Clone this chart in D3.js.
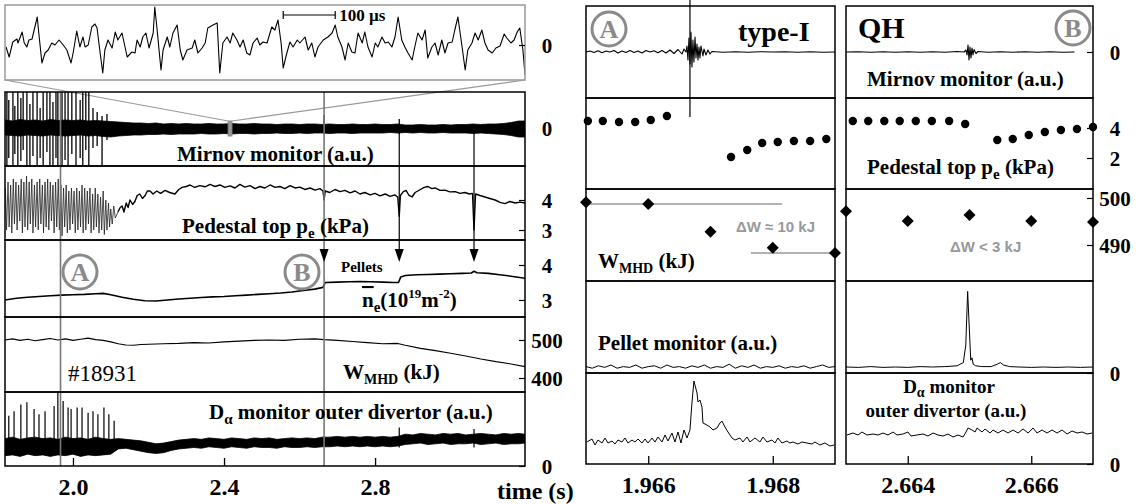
<!DOCTYPE html>
<html>
<head>
<meta charset="utf-8">
<script src="https://cdn.jsdelivr.net/npm/d3@7"></script>
<style>
  body { margin: 0; background: #fff; }
  text { font-family: "Liberation Serif", "DejaVu Serif", "Times New Roman", serif; font-weight: bold; fill: #000; }
</style>
</head>
<body>
<script>
// ---------- data ----------
// markers
let tA = 1.967, tB = 2.665
let pelletTimes = [2.665, 2.864, 3.062]

// inset: Mirnov signal over 1 ms, time in microseconds
let insetSig = [[2,-0.2],[8,-1.2],[15,0.3],[23,0.6],[25,0.2],[33,1.3],[37,0.2],[42,-0.2],[46,0.5],[52,0.6],[62,2.8],[65,1.2],[71,-1.8],[77,-0.8],[83,-0.5],[90,0.2],[96,0],[104,0.5],[112,0],[119,-0.5],[127,-1.8],[131,-0.8],[138,1.4],[144,-0.2],[150,0.8],[154,-0.2],[160,0],[167,1.8],[173,2.1],[177,1.7],[183,-0.8],[188,-2.8],[192,-0.5],[198,0.5],[206,-0.3],[212,1.3],[217,0.5],[225,1.2],[235,-1.2],[244,-0.7],[250,-0.8],[254,0.5],[260,-0.2],[265,0.8],[271,1.2],[277,-0.3],[285,1.2],[288,3.8],[292,1.8],[300,-2.5],[304,-0.5],[312,0.8],[317,-0.2],[323,1.2],[331,2.0],[337,-0.5],[342,-1.5],[350,-0.5],[360,-0.3],[365,0.5],[371,-0.8],[379,-0.3],[385,0.2],[390,1.7],[400,2.0],[408,2.2],[413,-2.8],[419,0.2],[427,0.8],[433,0.2],[438,1.2],[446,0.5],[452,-0.2],[458,0.5],[465,-0.8],[471,-1.0],[477,0.2],[485,0.7],[490,0],[496,0.3],[504,0.2],[513,1.8],[519,1.5],[525,2.5],[531,0.2],[535,-2.3],[542,-0.8],[548,0.3],[554,-0.2],[562,0.5],[567,0.2],[577,0.8],[583,-0.5],[590,0.2],[596,-1.2],[602,-0.2],[612,0.5],[621,0.8],[629,1.2],[635,2.0],[640,0.8],[648,-0.2],[654,-1.5],[660,0.2],[667,-0.7],[673,-0.8],[679,1.2],[687,0.2],[692,1.3],[698,-0.2],[706,-1.2],[712,0.2],[717,-0.2],[725,0.8],[731,0.2],[737,0.3],[744,-0.2],[750,0.8],[756,2.8],[763,0.5],[769,-0.2],[775,-0.8],[783,-1.5],[788,-0.2],[794,1.2],[802,0.5],[808,1.5],[813,-1.3],[821,-0.2],[827,0.2],[833,-1.0],[840,0.5],[846,-0.8],[852,0.2],[860,0.3],[865,1.5],[871,2.8],[879,-0.2],[885,-2.5],[890,-0.5],[898,0.2],[904,1.2],[910,0.5],[917,1.5],[923,0.2],[929,-0.5],[937,-0.8],[944,-0.3],[952,-0.1],[960,1.1],[965,0.7],[973,0.2],[979,0.5],[985,1.3],[990,1.7],[996,-0.5],[1000,-3.0]]
let insetBar = [535, 635]   // 100 us scale bar
let zoomWindow = [2.411, 2.421]

// long discharge: Mirnov envelope (a.u.)
let bandT = [1.82,1.84,1.86,1.88,1.90,1.92,1.94,1.96,1.98,2.00,2.02,2.04,2.06,2.08,2.10,2.12,2.14,2.16,2.18,2.20,2.22,2.24,2.26,2.28,2.30,2.32,2.34,2.36,2.38,2.40,2.42,2.44,2.46,2.48,2.50,2.52,2.54,2.56,2.58,2.60,2.62,2.64,2.66,2.68,2.70,2.72,2.74,2.76,2.78,2.80,2.82,2.84,2.86,2.88,2.90,2.92,2.94,2.96,2.98,3.00,3.02,3.04,3.06,3.08,3.10,3.12,3.14,3.16,3.18,3.197]
let mirHi = [0.8,0.7,0.85,0.75,0.8,0.7,0.85,0.75,0.8,0.75,0.8,0.7,0.75,0.7,0.65,0.6,0.55,0.5,0.5,0.45,0.5,0.4,0.45,0.4,0.45,0.4,0.4,0.45,0.4,0.4,0.45,0.4,0.4,0.45,0.4,0.4,0.35,0.4,0.4,0.35,0.4,0.4,0.35,0.4,0.35,0.35,0.4,0.35,0.35,0.4,0.35,0.35,0.4,0.3,0.3,0.35,0.3,0.3,0.35,0.3,0.35,0.35,0.4,0.35,0.4,0.4,0.45,0.55,0.7,0.7]
let mirLo = [-0.7,-0.75,-0.8,-0.7,-0.75,-0.8,-0.7,-0.75,-0.8,-0.75,-0.7,-0.8,-0.75,-0.85,-0.9,-0.8,-0.75,-0.7,-0.7,-0.65,-0.65,-0.6,-0.65,-0.6,-0.6,-0.6,-0.55,-0.6,-0.6,-0.55,-0.6,-0.55,-0.55,-0.6,-0.55,-0.55,-0.5,-0.55,-0.55,-0.5,-0.55,-0.5,-0.5,-0.55,-0.5,-0.5,-0.55,-0.5,-0.5,-0.5,-0.5,-0.45,-0.5,-0.45,-0.5,-0.45,-0.5,-0.5,-0.45,-0.5,-0.5,-0.5,-0.55,-0.5,-0.55,-0.6,-0.65,-0.75,-0.9,-0.9]
// ELM spikes on Mirnov: [t, high, low]
let mirSpikes = [[1.825,3.6,-3.8],[1.830,2.8,-3.0],[1.841,3.6,-3.8],[1.846,2.2,-2.6],[1.854,3.6,-3.8],[1.862,3.0,-3.3],[1.868,3.6,-2.2],[1.878,3.6,-3.8],[1.886,2.4,-3.8],[1.894,3.6,-2.8],[1.905,3.6,-3.8],[1.913,2.0,-3.0],[1.921,3.6,-3.8],[1.931,3.6,-2.4],[1.939,3.6,-3.8],[1.947,2.6,-3.8],[1.955,3.6,-3.0],[1.960,3.6,-3.8],[1.971,3.6,-3.8],[1.979,3.6,-3.2],[1.987,3.6,-3.8],[1.997,3.6,-2.6],[2.008,3.6,-3.8],[2.019,2.8,-3.0],[2.026,3.6,-3.8],[2.034,3.6,-2.2],[2.042,3.6,-3.8],[2.053,2.0,-2.0],[2.064,1.6,-1.8],[2.077,1.2,-3.8],[2.090,1.4,-1.2],[2.665,1.3,-0.6],[2.864,0.9,-0.6]]

// pedestal top pe (kPa), long discharge: ELM phase, then ELM-free phase
let pedElm = [[1.821,4.4],[1.824,3.0],[1.828,4.6],[1.831,3.1],[1.835,4.5],[1.838,2.9],[1.842,4.7],[1.845,3.2],[1.849,4.6],[1.852,3.0],[1.856,4.5],[1.859,3.3],[1.863,4.7],[1.866,2.9],[1.870,4.6],[1.873,3.1],[1.877,4.8],[1.880,3.0],[1.884,4.6],[1.887,3.2],[1.891,4.7],[1.894,2.9],[1.898,4.5],[1.901,3.1],[1.905,4.6],[1.908,3.0],[1.912,4.7],[1.915,3.2],[1.919,4.5],[1.922,2.9],[1.926,4.6],[1.929,3.1],[1.933,4.7],[1.936,3.0],[1.940,4.6],[1.943,3.3],[1.947,4.5],[1.950,2.9],[1.954,4.6],[1.957,3.1],[1.961,4.7],[1.964,3.0],[1.968,4.5],[1.971,2.8],[1.975,4.4],[1.978,3.1],[1.982,4.5],[1.985,2.9],[1.989,4.3],[1.992,3.0],[1.996,4.4],[1.999,3.2],[2.003,4.3],[2.006,2.9],[2.010,4.4],[2.013,3.0],[2.017,4.3],[2.020,3.1],[2.024,4.5],[2.027,2.9],[2.031,4.4],[2.034,3.0],[2.038,4.3],[2.041,3.2],[2.045,4.4],[2.048,2.9],[2.052,4.2],[2.055,3.0],[2.059,4.4],[2.062,3.1],[2.066,4.2],[2.069,2.9],[2.073,4.1],[2.076,3.0],[2.080,4.3],[2.083,2.85],[2.087,4.0],[2.090,3.0],[2.094,3.9],[2.097,3.1],[2.100,3.7],[2.104,3.2],[2.108,3.8],[2.112,3.4],[2.119,3.6]]
let pedQuiet = [[2.119,3.6],[2.125,3.75],[2.130,3.8],[2.135,3.6],[2.141,3.9],[2.146,3.75],[2.151,4.0],[2.158,3.85],[2.164,3.95],[2.170,4.15],[2.177,4.2],[2.184,4.05],[2.191,4.15],[2.197,4.3],[2.204,4.3],[2.212,4.2],[2.222,4.3],[2.232,4.22],[2.244,4.32],[2.256,4.25],[2.270,4.2],[2.280,4.35],[2.289,4.42],[2.300,4.45],[2.310,4.5],[2.322,4.42],[2.336,4.48],[2.350,4.44],[2.363,4.52],[2.376,4.45],[2.389,4.5],[2.402,4.42],[2.416,4.47],[2.429,4.4],[2.442,4.52],[2.455,4.43],[2.469,4.48],[2.482,4.38],[2.495,4.45],[2.508,4.4],[2.522,4.5],[2.535,4.42],[2.548,4.45],[2.561,4.38],[2.575,4.48],[2.588,4.4],[2.601,4.43],[2.614,4.35],[2.628,4.4],[2.641,4.33],[2.654,4.38],[2.662,4.3],[2.665,4.0],[2.668,4.3],[2.680,4.25],[2.694,4.35],[2.707,4.28],[2.720,4.32],[2.734,4.24],[2.747,4.3],[2.760,4.2],[2.773,4.25],[2.787,4.17],[2.800,4.22],[2.813,4.14],[2.827,4.2],[2.840,4.12],[2.852,4.17],[2.860,4.1],[2.864,3.45],[2.867,4.15],[2.875,4.28],[2.882,4.32],[2.890,4.15],[2.898,4.1],[2.906,4.25],[2.913,4.3],[2.920,4.35],[2.930,4.42],[2.940,4.45],[2.950,4.38],[2.959,4.4],[2.972,4.32],[2.985,4.33],[2.998,4.27],[3.012,4.28],[3.025,4.22],[3.038,4.25],[3.050,4.2],[3.058,4.22],[3.062,3.0],[3.066,4.2],[3.078,4.15],[3.091,4.1],[3.104,4.05],[3.118,4.0],[3.131,3.92],[3.144,3.88],[3.157,3.95],[3.171,3.9],[3.184,3.93],[3.197,3.9]]

// line density (1e19 m^-2)
let neLong = [[1.82,3.0],[1.85,3.05],[1.88,3.08],[1.91,3.1],[1.94,3.12],[1.97,3.14],[2.00,3.15],[2.03,3.16],[2.06,3.18],[2.08,3.19],[2.10,3.15],[2.13,3.08],[2.16,3.02],[2.19,2.98],[2.22,2.97],[2.25,3.0],[2.28,3.03],[2.31,3.05],[2.34,3.07],[2.37,3.09],[2.40,3.1],[2.43,3.12],[2.46,3.14],[2.49,3.16],[2.52,3.18],[2.55,3.2],[2.58,3.23],[2.61,3.27],[2.64,3.31],[2.662,3.36],[2.668,3.5],[2.70,3.51],[2.73,3.52],[2.76,3.53],[2.79,3.52],[2.82,3.51],[2.85,3.5],[2.862,3.5],[2.868,3.66],[2.88,3.7],[2.91,3.72],[2.94,3.73],[2.97,3.74],[3.00,3.75],[3.03,3.76],[3.055,3.77],[3.062,3.82],[3.07,3.78],[3.10,3.76],[3.13,3.72],[3.16,3.68],[3.197,3.62]]

// stored energy (kJ)
let wLong = [[1.82,500],[1.84,503],[1.86,499],[1.88,502],[1.90,498],[1.92,501],[1.94,504],[1.96,500],[1.98,503],[2.00,499],[2.02,502],[2.04,505],[2.06,501],[2.08,499],[2.10,495],[2.12,490],[2.14,487],[2.16,486],[2.18,488],[2.20,489],[2.24,490],[2.28,491],[2.32,493],[2.36,492],[2.40,495],[2.44,497],[2.48,499],[2.52,500],[2.56,499],[2.60,502],[2.64,503],[2.665,501],[2.70,499],[2.74,496],[2.78,493],[2.82,490],[2.86,491],[2.88,486],[2.92,478],[2.96,472],[3.00,465],[3.04,458],[3.08,450],[3.12,443],[3.16,437],[3.197,430]]

// D-alpha envelope (a.u.) on bandT, plus ELM spikes
let daHi = [3.7,3.9,3.6,3.8,3.9,3.7,3.8,3.6,3.9,3.7,3.8,3.6,3.9,3.7,3.6,3.7,3.6,3.5,3.4,3.2,3.0,3.1,3.3,3.5,3.6,3.7,3.6,3.8,3.7,3.6,3.8,3.7,3.6,3.8,3.7,3.8,3.6,3.7,3.8,3.7,3.8,3.7,3.9,3.9,4.0,3.9,4.0,3.9,4.0,3.9,4.0,3.9,4.0,4.3,4.2,4.4,4.3,4.2,4.4,4.3,4.4,4.2,4.3,4.4,4.3,4.2,4.4,4.3,4.4,4.3]
let daLo = [1.4,1.5,1.3,1.6,1.4,1.5,1.3,1.5,1.4,1.6,1.3,1.5,1.4,1.5,1.6,2.3,2.4,2.2,2.0,1.8,1.7,1.8,2.1,2.3,2.4,2.5,2.4,2.6,2.5,2.4,2.6,2.5,2.4,2.6,2.5,2.5,2.4,2.6,2.5,2.5,2.6,2.5,2.6,2.6,2.7,2.6,2.7,2.6,2.7,2.6,2.7,2.6,2.7,2.9,3.0,3.1,2.9,3.0,3.1,2.9,3.0,3.0,3.1,2.9,3.0,3.1,2.9,3.0,3.0,3.1]
let daSpikes = [[1.830,6.8],[1.844,7.4],[1.862,8.3],[1.878,8.6],[1.897,7.7],[1.910,7.0],[1.926,7.4],[1.950,8.1],[1.960,10.0],[1.974,8.8],[1.987,7.9],[1.995,7.7],[2.011,7.9],[2.024,7.9],[2.040,7.2],[2.053,7.4],[2.066,7.0],[2.082,7.9],[2.095,7.0],[2.109,6.1],[2.864,5.2],[3.062,5.0]]

// type-I ELM (A) zoom
let mirA = [[1.965000,0],[1.965064,0.2],[1.965128,-0.1],[1.965193,0.25],[1.965257,-0.15],[1.965321,0.2],[1.965385,0],[1.965450,0.3],[1.965514,-0.2],[1.965578,0.2],[1.965642,-0.1],[1.965707,0.3],[1.965771,-0.1],[1.965835,0.2],[1.965899,-0.2],[1.965964,0.3],[1.966028,0],[1.966092,0.25],[1.966156,-0.15],[1.966221,0.3],[1.966285,-0.2],[1.966349,0.4],[1.966413,-0.3],[1.966478,0.5],[1.966542,-0.4],[1.966574,0.6],[1.966606,0],[1.966622,1.2],[1.966638,-1.6],[1.966654,2.8],[1.966670,-2.4],[1.966686,4.0],[1.966702,-3.0],[1.966718,2.4],[1.966734,-2.0],[1.966751,3.0],[1.966767,-1.2],[1.966783,1.6],[1.966799,-1.6],[1.966815,1.0],[1.966831,-1.2],[1.966847,1.2],[1.966879,-0.8],[1.966895,0.6],[1.966927,-0.6],[1.966959,0.4],[1.966991,-0.4],[1.967024,0.1],[1.96720,-0.05],[1.96740,0.05],[1.96760,-0.05],[1.96780,0.05],[1.96800,0],[1.96820,0.05],[1.96840,-0.05],[1.96860,0.05],[1.96880,-0.05],[1.96900,0]]
let pedA = [[1.96503,4.47],[1.96527,4.47],[1.96553,4.4],[1.96579,4.4],[1.96604,4.53],[1.96630,4.8],[1.96733,2.07],[1.96759,2.53],[1.96783,3.0],[1.96808,3.07],[1.96834,3.13],[1.96860,3.13],[1.96886,3.27]]
let wA = [[1.965,499.1],[1.966,498.7],[1.967,492.8],[1.968,489.4],[1.969,488.3]]
let wLevelsA = [[1.965, 1.96815, 498.7], [1.96765, 1.969, 488.3]]
let pelA = [[1.96500,0.8],[1.96510,0.6],[1.96520,0.9],[1.96530,0.7],[1.96540,1.0],[1.96550,0.6],[1.96560,0.8],[1.96570,0.7],[1.96580,1.0],[1.96590,0.6],[1.96600,0.8],[1.96610,0.9],[1.96620,0.6],[1.96630,1.0],[1.96640,0.7],[1.96650,0.8],[1.96660,0.6],[1.96670,0.9],[1.96680,0.7],[1.96690,1.0],[1.96700,0.6],[1.96710,0.8],[1.96720,0.7],[1.96730,1.1],[1.96740,0.6],[1.96750,0.9],[1.96760,0.7],[1.96770,1.0],[1.96780,0.6],[1.96790,0.8],[1.96800,0.7],[1.96810,0.9],[1.96820,0.6],[1.96830,0.8],[1.96840,0.7],[1.96850,0.9],[1.96860,0.6],[1.96870,0.8],[1.96880,1.0],[1.96890,0.7],[1.96900,0.8]]
let daA = [[1.965016,5.5],[1.965096,6.25],[1.965145,4.75],[1.965193,6],[1.965257,5.25],[1.965305,6.5],[1.965353,5.25],[1.965418,5.75],[1.965466,5],[1.965514,6],[1.965578,5.5],[1.965626,6.5],[1.965675,5.25],[1.965739,6],[1.965787,5.5],[1.965835,6.25],[1.965899,5.25],[1.965948,6.25],[1.965996,5.25],[1.966060,6.5],[1.966108,5.5],[1.966156,6.75],[1.966221,5.5],[1.966269,7.25],[1.966317,5.75],[1.966381,7.75],[1.966429,5.5],[1.966478,8],[1.966526,5.25],[1.966574,8.5],[1.966622,6.5],[1.966670,8.5],[1.966702,15.25],[1.966734,20.75],[1.966783,17.75],[1.966799,15.5],[1.966831,16],[1.966863,14.25],[1.966879,10.25],[1.966943,9.75],[1.966991,9.25],[1.967040,8.5],[1.967104,9],[1.967152,10.25],[1.967184,10.75],[1.967232,9.25],[1.967281,8],[1.967345,6.5],[1.967393,6],[1.967473,6.5],[1.967521,5.5],[1.967586,6.75],[1.967634,5.5],[1.967714,6.5],[1.967794,5.5],[1.967843,6.75],[1.967907,5.5],[1.967987,6],[1.968035,5.25],[1.968083,6.5],[1.968148,5.25],[1.968228,5.75],[1.968276,5.25],[1.968324,5.5],[1.968405,5],[1.968469,5.5],[1.968549,5.25],[1.968630,5],[1.968678,5.5],[1.968758,4.75],[1.968838,5.25],[1.968919,4.5],[1.968983,4.75]]

// QH (B) zoom
let mirB = [[2.66300,0],[2.66320,0.05],[2.66340,-0.05],[2.66360,0.05],[2.66380,-0.05],[2.66400,0.05],[2.66420,-0.05],[2.66440,0.05],[2.66460,-0.05],[2.66480,0.1],[2.664911,0],[2.664943,0.4],[2.664960,-0.6],[2.664976,1.4],[2.664992,-1.6],[2.665008,1.0],[2.665024,-1.2],[2.665041,0.8],[2.665057,-0.6],[2.665073,0.5],[2.665105,-0.3],[2.665138,0.1],[2.66530,-0.05],[2.66550,0.05],[2.66570,-0.05],[2.66590,0.05],[2.66610,-0.05],[2.66630,0.05],[2.66650,-0.05],[2.66670,0]]
let pedB = [[2.66311,4.47],[2.66336,4.47],[2.66362,4.47],[2.66387,4.47],[2.66413,4.47],[2.66439,4.47],[2.66467,4.47],[2.66493,4.27],[2.66545,3.2],[2.66570,3.27],[2.66596,3.53],[2.66622,3.73],[2.66648,3.87],[2.66674,3.93],[2.66700,4.07]]
let wB = [[2.663,497.2],[2.664,495.1],[2.665,496.4],[2.666,495.1],[2.667,494.9]]
let pelB = [[2.66300,0.75],[2.66320,0.7],[2.66340,0.8],[2.66360,0.7],[2.66380,0.75],[2.66400,0.7],[2.66420,0.8],[2.66440,0.75],[2.66460,0.8],[2.66480,0.9],[2.66490,1.3],[2.66494,3.5],[2.66497,10.2],[2.66500,5.0],[2.66502,1.6],[2.66504,1.9],[2.66506,1.1],[2.66510,0.9],[2.66520,0.8],[2.66535,0.8],[2.66545,1.1],[2.66550,1.3],[2.66555,1.0],[2.66565,0.8],[2.66580,0.75],[2.66600,0.7],[2.66620,0.75],[2.66640,0.7],[2.66660,0.75],[2.66680,0.7],[2.66700,0.75]]
let daB = [[2.663016,7.25],[2.663113,7.75],[2.663194,7.25],[2.663259,8],[2.663340,7.25],[2.663437,7.5],[2.663518,7.25],[2.663599,7.75],[2.663680,7.25],[2.663761,8],[2.663826,7.25],[2.663923,7.5],[2.664004,8],[2.664053,7],[2.664150,7.25],[2.664247,7.5],[2.664328,7],[2.664409,7.75],[2.664490,7.25],[2.664571,7],[2.664652,7.5],[2.664733,6.75],[2.664814,7.25],[2.664895,6.75],[2.664944,8],[2.664976,9],[2.665041,8.5],[2.665090,8],[2.665122,9],[2.665203,8],[2.665252,8.75],[2.665333,7.75],[2.665381,8.5],[2.665462,7.75],[2.665543,8.5],[2.665624,7.75],[2.665705,8.5],[2.665786,7.75],[2.665867,8.75],[2.665948,7.75],[2.666029,9],[2.666094,7.75],[2.666175,8.5],[2.666256,7.75],[2.666337,8.5],[2.666418,7.75],[2.666499,8.5],[2.666580,7.5],[2.666661,8.25],[2.666742,7.75],[2.666823,8],[2.666904,7.5],[2.666985,7.75]]

// tick labels
let ticksLong = [2.0, 2.4, 2.8]
let ticksA = [1.966, 1.968]
let ticksB = [2.664, 2.666]

// ---------- drawing ----------
let W = 1142, H = 504
let SERIF = '"Liberation Serif", "DejaVu Serif", "Times New Roman", serif'
let svg = d3.select('body').append('svg').attr('width', W).attr('height', H)
let defs = svg.append('defs')

// scales
let xIn = d3.scaleLinear().domain([0, 1000]).range([5, 525])
let xL = d3.scaleLinear().domain([1.82, 3.197]).range([5, 525])
let xA = d3.scaleLinear().domain([1.965, 1.969]).range([586, 835])
let xB = d3.scaleLinear().domain([2.663, 2.667]).range([846, 1093])

let yIn = d3.scaleLinear().domain([-3.5, 4]).range([80, 5])
let yMir = d3.scaleLinear().domain([-3.8, 3.6]).range([166, 92])
let yPed = d3.scaleLinear().domain([2.667, 5.133]).range([240, 166])
let yNe = d3.scaleLinear().domain([2.514, 4.714]).range([317, 240])
let yW = d3.scaleLinear().domain([363.2, 560.5]).range([392, 317])
let yDa = d3.scaleLinear().domain([0, 10]).range([466, 392])

let ySMir = d3.scaleLinear().domain([-9.2, 9.2]).range([98, 6])
let ySPed = d3.scaleLinear().domain([-0.067, 6]).range([189, 98])
let ySW = d3.scaleLinear().domain([482.34, 501.91]).range([281, 189])
let ySPel = d3.scaleLinear().domain([0, 11.5]).range([373, 281])
let ySDa = d3.scaleLinear().domain([0, 22.75]).range([464, 373])

let clipN = 0
function clipRect(x0, y0, x1, y1) {
  let id = 'c' + (clipN++)
  defs.append('clipPath').attr('id', id).append('rect')
    .attr('x', x0).attr('y', y0).attr('width', x1 - x0).attr('height', y1 - y0)
  return 'url(#' + id + ')'
}
function trace(data, xs, ys, clip, sw, col) {
  let line = d3.line().x(d => xs(d[0])).y(d => ys(d[1]))
  svg.append('path').attr('d', line(data)).attr('clip-path', clip)
    .attr('fill', 'none').attr('stroke', col || '#000').attr('stroke-width', sw || 1)
    .attr('stroke-linejoin', 'round')
}
function band(t, hi, lo, xs, ys, clip) {
  let area = d3.area().x(d => xs(d[0])).y0(d => ys(d[2])).y1(d => ys(d[1]))
  svg.append('path').attr('d', area(d3.zip(t, hi, lo))).attr('clip-path', clip)
    .attr('fill', '#000').attr('stroke', '#000').attr('stroke-width', 0.8)
}
function rightAxis(x, ys, vals) {
  let ax = d3.axisRight(ys).tickValues(vals).tickSize(-6).tickPadding(0).tickFormat(d3.format('d'))
  let g = svg.append('g').attr('transform', 'translate(' + x + ',0)').call(ax)
  g.select('.domain').remove()
  g.selectAll('line').attr('stroke', '#000').attr('stroke-width', 1.2)
  g.selectAll('text').attr('x', 22).attr('text-anchor', 'middle').attr('dy', '0.36em')
    .style('font-family', SERIF).style('font-weight', 'bold').style('font-size', '21px')
}
function bottomAxis(y, xs, vals, fmt) {
  let ax = d3.axisBottom(xs).tickValues(vals).tickSize(-8).tickPadding(12).tickFormat(fmt)
  let g = svg.append('g').attr('transform', 'translate(0,' + y + ')').call(ax)
  g.select('.domain').remove()
  g.selectAll('line').attr('stroke', '#000').attr('stroke-width', 1.3)
  g.selectAll('text').style('font-family', SERIF).style('font-weight', 'bold').style('font-size', '24px')
}
function label(x, y, parts, size, anchor) {
  let t = svg.append('text').attr('x', x).attr('y', y).style('font-size', (size || 21) + 'px')
  if (anchor) t.attr('text-anchor', anchor)
  parts.forEach(p => {
    if (typeof p === 'string') { t.append('tspan').text(p); return }
    let s = t.append('tspan').text(p.t)
    if (p.size) s.style('font-size', p.size + 'px')
    if (p.dy) s.attr('dy', p.dy)
    if (p.over) s.style('text-decoration', 'overline')
  })
  return t
}
function circled(cx, cy, ch) {
  svg.append('circle').attr('cx', cx).attr('cy', cy).attr('r', 17)
    .attr('fill', 'none').attr('stroke', '#8a8a8a').attr('stroke-width', 3)
  svg.append('text').attr('x', cx).attr('y', cy + 9).attr('text-anchor', 'middle')
    .style('font-size', '26px').style('fill', '#8a8a8a').text(ch)
}

// ---- left: inset ----
let cIn = clipRect(5, 5, 525, 80)
trace(insetSig, xIn, yIn, cIn, 1.1)
svg.append('rect').attr('x', 5).attr('y', 5).attr('width', 520).attr('height', 75)
  .attr('fill', 'none').attr('stroke', '#999').attr('stroke-width', 1.5)
svg.append('line').attr('x1', xIn(insetBar[0])).attr('x2', xIn(insetBar[1]))
  .attr('y1', yIn(3)).attr('y2', yIn(3)).attr('stroke', '#000').attr('stroke-width', 1.2)
insetBar.forEach(v => svg.append('line').attr('x1', xIn(v)).attr('x2', xIn(v))
  .attr('y1', yIn(3) - 4).attr('y2', yIn(3) + 4).attr('stroke', '#000').attr('stroke-width', 1.2))
label(xIn(insetBar[1]) + 4, yIn(3) + 6, ['100 µs'], 17)
rightAxis(525, yIn, [0])
// connector lines to the zoom window
svg.append('line').attr('x1', 5).attr('y1', 80).attr('x2', xL(zoomWindow[0])).attr('y2', yMir(0.7))
  .attr('stroke', '#999').attr('stroke-width', 1.2)
svg.append('line').attr('x1', 525).attr('y1', 80).attr('x2', xL(zoomWindow[1])).attr('y2', yMir(0.7))
  .attr('stroke', '#999').attr('stroke-width', 1.2)

// ---- left: long traces ----
let cMir = clipRect(5, 92, 525, 166)
band(bandT, mirHi, mirLo, xL, yMir, cMir)
mirSpikes.forEach(s => svg.append('line').attr('clip-path', cMir)
  .attr('x1', xL(s[0])).attr('x2', xL(s[0])).attr('y1', yMir(s[1])).attr('y2', yMir(s[2]))
  .attr('stroke', '#000').attr('stroke-width', 1.3))
svg.append('rect').attr('x', xL(zoomWindow[0])).attr('y', yMir(0.7))
  .attr('width', xL(zoomWindow[1]) - xL(zoomWindow[0])).attr('height', yMir(-0.8) - yMir(0.7))
  .attr('fill', '#999').attr('stroke', '#888').attr('stroke-width', 1)

let cPed = clipRect(5, 166, 525, 240)
trace(pedElm, xL, yPed, cPed, 0.8, '#222')
trace(pedQuiet, xL, yPed, cPed, 1.4)
let cNe = clipRect(5, 240, 525, 317)
trace(neLong, xL, yNe, cNe, 1.6)
let cW = clipRect(5, 317, 525, 392)
trace(wLong, xL, yW, cW, 1.1)
let cDa = clipRect(5, 392, 525, 466)
band(bandT, daHi, daLo, xL, yDa, cDa)
daSpikes.forEach(s => svg.append('line').attr('clip-path', cDa)
  .attr('x1', xL(s[0])).attr('x2', xL(s[0])).attr('y1', yDa(s[1])).attr('y2', yDa(2.5))
  .attr('stroke', '#000').attr('stroke-width', 1.2))

// A / B markers
;[tA, tB].forEach(t => svg.append('line').attr('x1', xL(t)).attr('x2', xL(t))
  .attr('y1', 92).attr('y2', 466).attr('stroke', '#777').attr('stroke-width', 1.6))
// pellets
pelletTimes.forEach((t, i) => {
  let x = xL(t)
  if (i > 0) svg.append('line').attr('x1', x).attr('x2', x).attr('y1', yMir(0)).attr('y2', 250)
    .attr('stroke', '#000').attr('stroke-width', 1.2)
  svg.append('path').attr('d', 'M' + (x - 4.5) + ',249L' + (x + 4.5) + ',249L' + x + ',262Z').attr('fill', '#000')
})

// frames
;[92, 166, 240, 317, 392].forEach((y0, i, a) => {
  let y1 = i < a.length - 1 ? a[i + 1] : 466
  svg.append('rect').attr('x', 5).attr('y', y0).attr('width', 520).attr('height', y1 - y0)
    .attr('fill', 'none').attr('stroke', '#000').attr('stroke-width', 1.5)
})

rightAxis(525, yMir, [0])
rightAxis(525, yPed, [3, 4])
rightAxis(525, yNe, [3, 4])
rightAxis(525, yW, [400, 500])
rightAxis(525, yDa, [0])
bottomAxis(466, xL, ticksLong, d3.format('.1f'))

// left labels
label(177, 161, ['Mirnov monitor (a.u.)'])
label(182, 233, ['Pedestal top p', { t: 'e', size: 15, dy: 5 }, { t: '  (kPa)', dy: -5 }])
label(341, 272, ['Pellets'], 15)
label(362, 307, [{ t: 'n', over: true }, { t: 'e', size: 15, dy: 5 }, { t: '(10', dy: -5 }, { t: '19', size: 13, dy: -9 }, { t: 'm', dy: 9 }, { t: '-2', size: 13, dy: -9 }, { t: ')', dy: 9 }])
svg.append('text').attr('x', 68).attr('y', 381).style('font-size', '23px').style('font-weight', 'normal').text('#18931')
label(343, 379, ['W', { t: 'MHD', size: 14, dy: 5 }, { t: ' (kJ)', dy: -5 }])
label(209, 419, ['D', { t: 'α', size: 15, dy: 5 }, { t: ' monitor outer divertor (a.u.)', dy: -5 }])
circled(80, 272, 'A')
circled(302, 272, 'B')
svg.append('text').attr('x', 497).attr('y', 499).style('font-size', '24px').text('time (s)')

// ---- middle (type-I) and right (QH) ----
let rows = [6, 98, 189, 281, 373, 464]
function zoomPanel(xs, x0, x1, mir, ped, w, pel, da) {
  let c = rows.slice(0, 5).map((y, i) => clipRect(x0, y, x1, rows[i + 1]))
  trace(mir, xs, ySMir, c[0], 1.1)
  ped.forEach(d => svg.append('circle').attr('cx', xs(d[0])).attr('cy', ySPed(d[1])).attr('r', 4.2).attr('fill', '#000'))
  w.forEach(d => {
    let x = xs(d[0]), y = ySW(d[1])
    svg.append('path').attr('d', 'M' + x + ',' + (y - 6) + 'L' + (x + 6) + ',' + y + 'L' + x + ',' + (y + 6) + 'L' + (x - 6) + ',' + y + 'Z').attr('fill', '#000')
  })
  trace(pel, xs, ySPel, c[3], 1)
  trace(da, xs, ySDa, c[4], 1)
  rows.slice(0, 5).forEach((y, i) => svg.append('rect').attr('x', x0).attr('y', y).attr('width', x1 - x0)
    .attr('height', rows[i + 1] - y).attr('fill', 'none').attr('stroke', '#000').attr('stroke-width', 1.5))
}
// gray Delta-W reference levels (behind the diamonds)
wLevelsA.forEach(l => svg.append('line').attr('x1', xA(l[0])).attr('x2', xA(l[1]))
  .attr('y1', ySW(l[2])).attr('y2', ySW(l[2])).attr('stroke', '#999').attr('stroke-width', 1.5))
zoomPanel(xA, 586, 835, mirA, pedA, wA, pelA, daA)
zoomPanel(xB, 846, 1093, mirB, pedB, wB, pelB, daB)
svg.append('line').attr('x1', xA(tA - 0.00033)).attr('x2', xA(tA - 0.00033)).attr('y1', 0).attr('y2', 117)
  .attr('stroke', '#000').attr('stroke-width', 1.2)

bottomAxis(464, xA, ticksA, d3.format('.3f'))
bottomAxis(464, xB, ticksB, d3.format('.3f'))
rightAxis(1093, ySMir, [0])
rightAxis(1093, ySPed, [2, 4])
rightAxis(1093, ySW, [490, 500])
rightAxis(1093, ySPel, [0])
rightAxis(1093, ySDa, [0])

circled(609, 29, 'A')
label(738, 41, ['type-I'], 28)
svg.append('text').attr('x', 736).attr('y', 232).style('font-family', '"Liberation Sans", Arial, sans-serif')
  .style('font-size', '15px').style('fill', '#999').text('ΔW ≈ 10 kJ')
label(598, 268, ['W', { t: 'MHD', size: 14, dy: 5 }, { t: ' (kJ)', dy: -5 }])
label(598, 350, ['Pellet monitor (a.u.)'])

label(858, 38, ['QH'], 30)
circled(1073, 28, 'B')
label(867, 86, ['Mirnov monitor (a.u.)'])
label(867, 174, ['Pedestal top p', { t: 'e', size: 15, dy: 5 }, { t: '  (kPa)', dy: -5 }])
svg.append('text').attr('x', 950).attr('y', 252).style('font-family', '"Liberation Sans", Arial, sans-serif')
  .style('font-size', '15px').style('fill', '#999').text('ΔW < 3 kJ')
label(949, 393, ['D', { t: 'α', size: 14, dy: 4 }, { t: ' monitor', dy: -4 }], 19, 'middle')
label(946, 417, ['outer divertor (a.u.)'], 19, 'middle')
</script>
</body>
</html>
